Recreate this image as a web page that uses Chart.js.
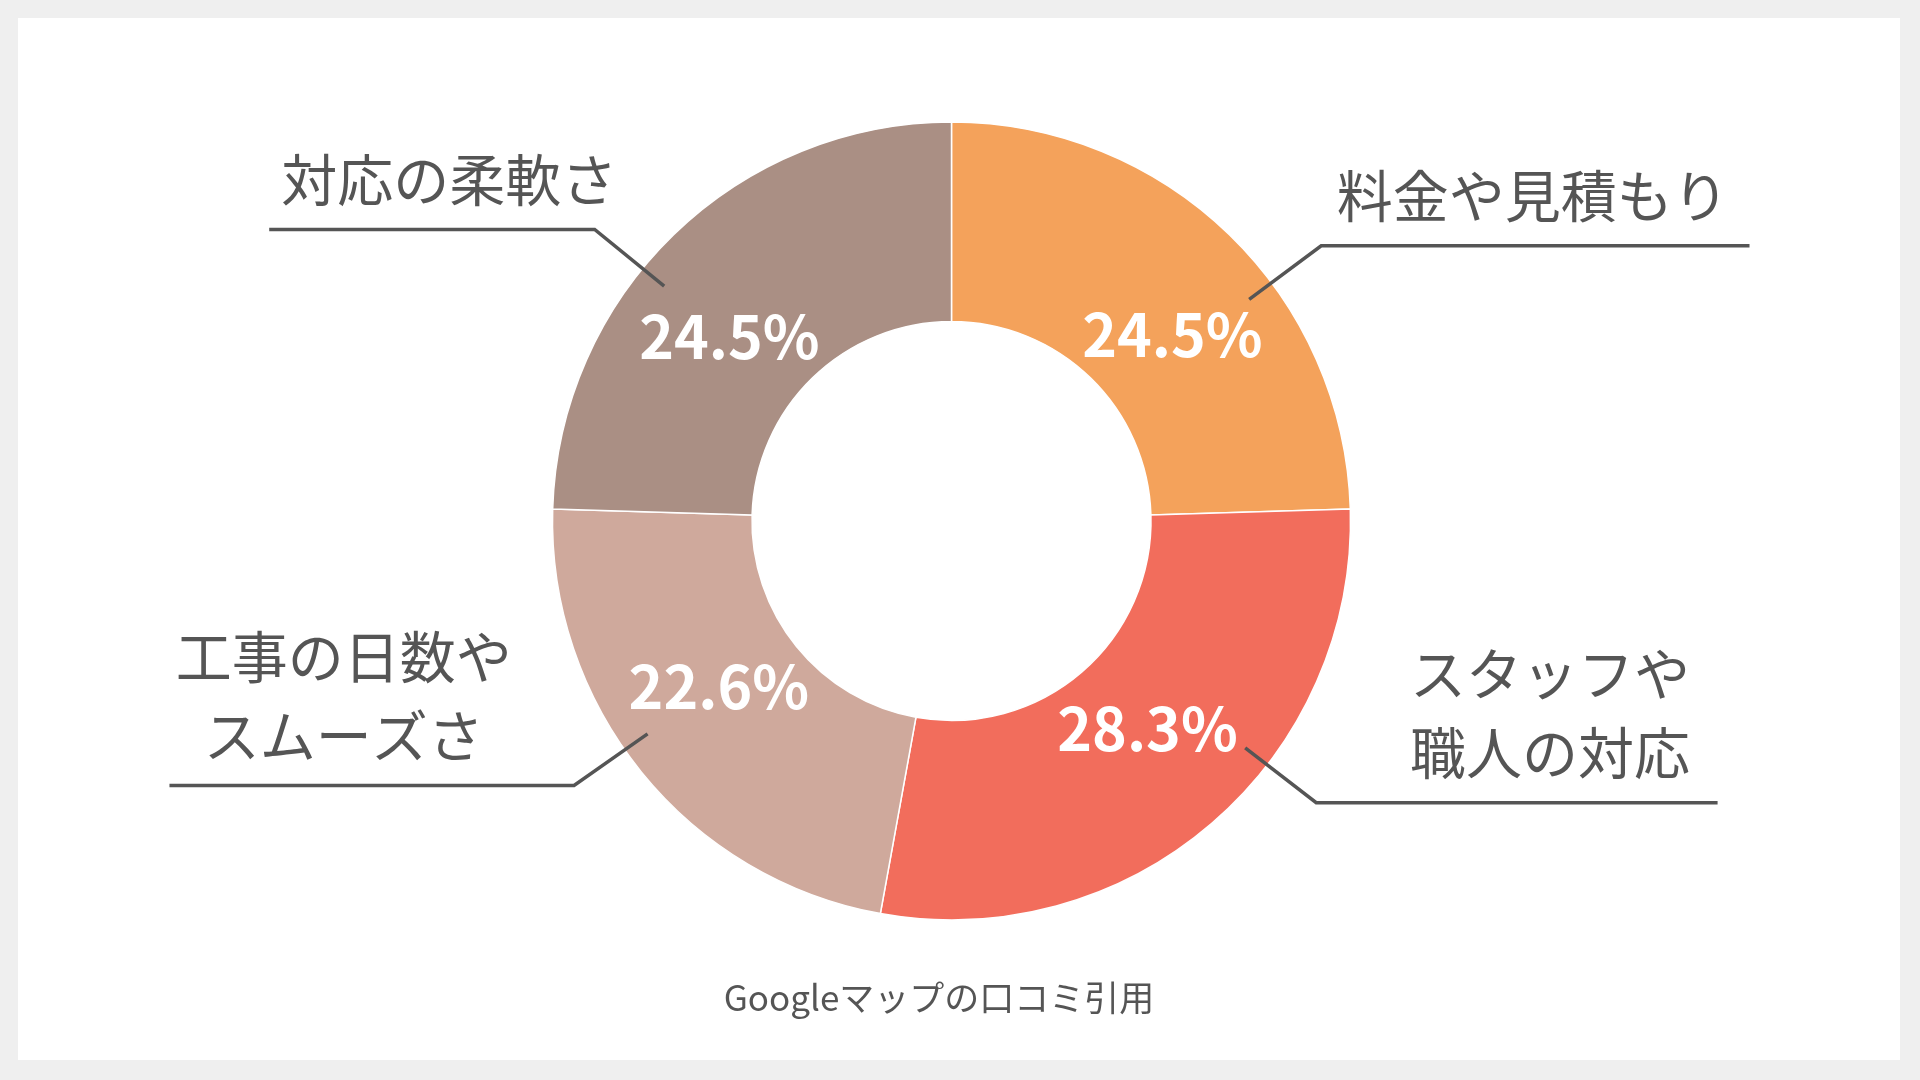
<!DOCTYPE html>
<html lang="ja">
<head>
<meta charset="utf-8">
<title>口コミの内訳</title>
<script src="https://cdn.jsdelivr.net/npm/chart.js@4.4.1/dist/chart.umd.min.js"></script>
<style>
    html, body { margin: 0; padding: 0; background: #efefef; }
    body { width: 1920px; height: 1080px; position: relative; overflow: hidden; }
    .panel { position: absolute; left: 18px; top: 18px; width: 1882px; height: 1042px; background: #ffffff; }
    .wrap { position: absolute; left: 0; top: 0; width: 1920px; height: 1080px; }
</style>
</head>
<body>
<div class="panel"></div>
<div class="wrap"><canvas id="donut" width="1920" height="1080"></canvas></div>
<script>
// dados do gráfico
const categories = ['料金や見積もり', 'スタッフや職人の対応', '工事の日数やスムーズさ', '対応の柔軟さ'];
const calloutLines = [['料金や見積もり'], ['スタッフや', '職人の対応'], ['工事の日数や', 'スムーズさ'], ['対応の柔軟さ']];
const shares = [24.5, 28.3, 22.6, 24.5];
const sliceColors = ['#f4a25b', '#f26d5c', '#cfa99c', '#aa8f84'];
const sourceNote = 'Googleマップの口コミ引用';

// rótulos, linhas de chamada e nota de fonte
const calloutPlugin = {
    id: 'callouts',
    afterDatasetsDraw(chart, args, opts) {
        const ctx = chart.ctx;
        const meta = chart.getDatasetMeta(0);
        const deg = Math.PI / 180;
        ctx.save();
        meta.data.forEach((arc, i) => {
            const p = arc.getProps(['x', 'y', 'startAngle', 'endAngle', 'outerRadius'], true);
            const R = p.outerRadius;
            const mid = (p.startAngle + p.endAngle) / 2;
            const c = opts.items[i];

            // percentual dentro da fatia
            const la = mid + c.labelShift * deg;
            const lr = R * opts.labelRadius;
            ctx.fillStyle = '#ffffff';
            ctx.font = 'bold 59px "Noto Sans CJK JP", "Noto Sans", sans-serif';
            ctx.textAlign = 'center';
            ctx.textBaseline = 'alphabetic';
            ctx.fillText(shares[i].toFixed(1) + '%', p.x + Math.cos(la) * lr, p.y + Math.sin(la) * lr + 20);

            // linha de chamada
            const a = mid + c.leaderShift * deg;
            const x0 = p.x + Math.cos(a) * R * opts.leaderFrom;
            const y0 = p.y + Math.sin(a) * R * opts.leaderFrom;
            const x1 = p.x + Math.cos(a) * R * opts.leaderTo;
            const y1 = p.y + Math.sin(a) * R * opts.leaderTo;
            const x2 = p.x + c.endX * R;
            ctx.strokeStyle = '#555555';
            ctx.lineWidth = 3.5;
            ctx.lineJoin = 'miter';
            ctx.beginPath();
            ctx.moveTo(x0, y0);
            ctx.lineTo(x1, y1);
            ctx.lineTo(x2, y1);
            ctx.stroke();

            // texto da categoria
            ctx.fillStyle = '#555555';
            ctx.font = '56px "Noto Sans CJK JP", sans-serif';
            ctx.textBaseline = 'middle';
            const lines = calloutLines[i];
            const tx = p.x + c.textX * R;
            lines.forEach((t, k) => {
                const ty = y1 - opts.textGap * R - (lines.length - 1 - k) * opts.lineStep * R;
                ctx.fillText(t, tx, ty);
            });
        });

        // nota de fonte
        ctx.fillStyle = '#555555';
        ctx.font = '35px "Noto Sans CJK JP", sans-serif';
        ctx.textAlign = 'center';
        ctx.textBaseline = 'middle';
        ctx.fillText(sourceNote, opts.noteX, opts.noteY);
        ctx.restore();
    }
};

const ctxDonut = document.getElementById('donut').getContext('2d');
window.donutChart = new Chart(ctxDonut, {
    type: 'doughnut',
    data: {
        labels: categories,
        datasets: [{
            data: shares,
            backgroundColor: sliceColors,
            borderColor: '#ffffff',
            borderWidth: 1.5,
            hoverOffset: 0
        }]
    },
    options: {
        responsive: false,
        animation: false,
        radius: 399,
        cutout: '50%',
        layout: { padding: { left: 0, right: 17, top: 0, bottom: 38 } },
        plugins: {
            legend: { display: false },
            tooltip: { enabled: false },
            callouts: {
                labelRadius: 0.72,
                leaderFrom: 0.93,
                leaderTo: 1.155,
                textGap: 0.125,
                lineStep: 0.198,
                noteX: 939,
                noteY: 998,
                items: [
                    { labelShift: 6.1, leaderShift: 9.2, endX: 2.0, textX: 1.457 },
                    { labelShift: -2.3, leaderShift: -11.6, endX: 1.92, textX: 1.5 },
                    { labelShift: 3.1, leaderShift: 4.0, endX: -1.96, textX: -1.523 },
                    { labelShift: -6.5, leaderShift: -6.6, endX: -1.71, textX: -1.259 }
                ]
            }
        }
    },
    plugins: [calloutPlugin]
});
</script>
</body>
</html>
